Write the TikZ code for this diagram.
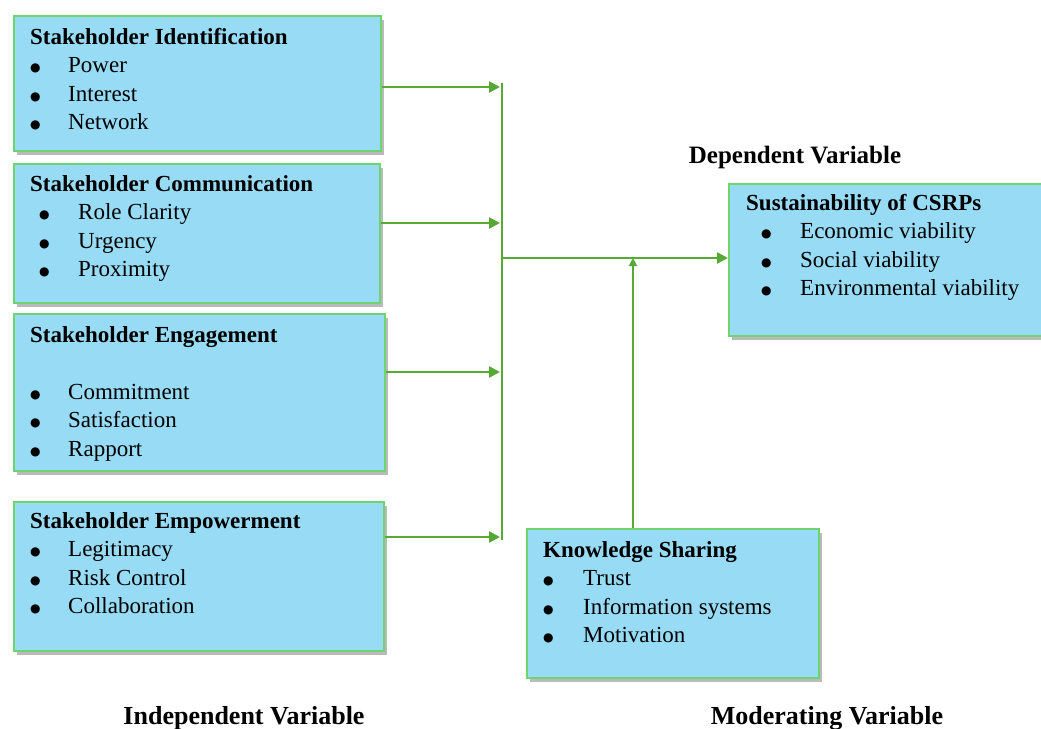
\documentclass[tikz,border=0pt]{standalone}
\usepackage{fontspec}
\setmainfont{Liberation Serif}
\newfontfamily\dotfont{DejaVu Sans}
\usetikzlibrary{arrows.meta,shadows}

\definecolor{boxfill}{RGB}{151,219,245}
\definecolor{boxline}{RGB}{110,212,110}
\definecolor{flowgreen}{RGB}{84,170,52}

% bullet lists inside the boxes
\newlength\bulin
\newlength\bulgap
\newcommand\bulset[2]{\setlength\bulin{#1}\setlength\bulgap{#2}}
\newcommand\itm[1]{\hspace*{\bulin}\makebox[\bulgap][l]{\raisebox{1pt}{\dotfont\fontsize{12}{12}\selectfont ●}}#1}

\tikzset{
  box/.style={draw=boxline, line width=1.6pt, fill=boxfill, anchor=north west, inner sep=0pt,
    drop shadow={shadow xshift=3pt, shadow yshift=-4pt, fill=black!45, opacity=0.6}},
  txt/.style 2 args={anchor=north west, align=left, inner sep=0pt,
    font=\fontsize{23}{28.5}\selectfont\bulset{#1}{#2}},
  lbl/.style={anchor=base, inner sep=0pt, font=\fontsize{26}{30}\selectfont\bfseries},
  bus/.style={draw=flowgreen, line width=2.4pt},
  flow/.style={bus, -{Triangle[length=11pt,width=11pt]}}
}

\begin{document}
\begin{tikzpicture}[x=1pt,y=-1pt]
  \useasboundingbox (0,0) rectangle (1041,728);

  \node[box, minimum width=367pt, minimum height=135pt] (ident) at (13,15) {};
  \node[box, minimum width=366pt, minimum height=139pt] (comm) at (13,163) {};
  \node[box, minimum width=371pt, minimum height=157pt] (engage) at (13,313) {};
  \node[box, minimum width=370pt, minimum height=149pt] (empower) at (13,501) {};
  \node[box, minimum width=313pt, minimum height=152pt] (sust) at (728,183) {};
  \node[box, minimum width=292pt, minimum height=149pt] (know) at (526,528) {};

  \node[txt={0pt}{38pt}] (identtxt) at (30,28) {\textbf{Stakeholder Identification}\\
    \itm{Power}\\ \itm{Interest}\\ \itm{Network}};
  \node[txt={9pt}{39pt}] (commtxt) at (30,175) {\textbf{Stakeholder Communication}\\
    \itm{Role Clarity}\\ \itm{Urgency}\\ \itm{Proximity}};
  \node[txt={0pt}{38pt}] (engagetxt) at (30,326) {\textbf{Stakeholder Engagement}\\[28.5pt]
    \itm{Commitment}\\ \itm{Satisfaction}\\ \itm{Rapport}};
  \node[txt={0pt}{38pt}] (empowertxt) at (30,512) {\textbf{Stakeholder Empowerment}\\
    \itm{Legitimacy}\\ \itm{Risk Control}\\ \itm{Collaboration}};
  \node[txt={15pt}{39pt}] (susttxt) at (746,194) {\textbf{Sustainability of CSRPs}\\
    \itm{Economic viability}\\ \itm{Social viability}\\ \itm{Environmental viability}};
  \node[txt={0pt}{40pt}] (knowtxt) at (543,541) {\textbf{Knowledge Sharing}\\
    \itm{Trust}\\ \itm{Information systems}\\ \itm{Motivation}};

  \node[lbl, font=\fontsize{25}{30}\selectfont\bfseries] (deplbl) at (795,163) {Dependent Variable};
  \node[lbl] (indlbl) at (244,724) {Independent Variable};
  \node[lbl] (modlbl) at (827,724) {Moderating Variable};

  \coordinate (in1) at (500,87);
  \coordinate (in2) at (500,223);
  \coordinate (in3) at (500,372);
  \coordinate (in4) at (500,537);
  \coordinate (bustop) at (502,83);
  \coordinate (busbot) at (502,540);
  \coordinate (busmid) at (502,258);
  \coordinate (joint) at (633,258);

  \draw[flow] (ident.east |- in1) -- (in1);
  \draw[flow] (comm.east |- in2) -- (in2);
  \draw[flow] (engage.east |- in3) -- (in3);
  \draw[flow] (empower.east |- in4) -- (in4);
  \draw[bus] (bustop) -- (busbot);
  \draw[flow] (busmid) -- (sust.west |- busmid);
  \draw[bus, -{Triangle[length=8pt,width=8pt]}] (know.north -| joint) -- (joint);
\end{tikzpicture}
\end{document}
